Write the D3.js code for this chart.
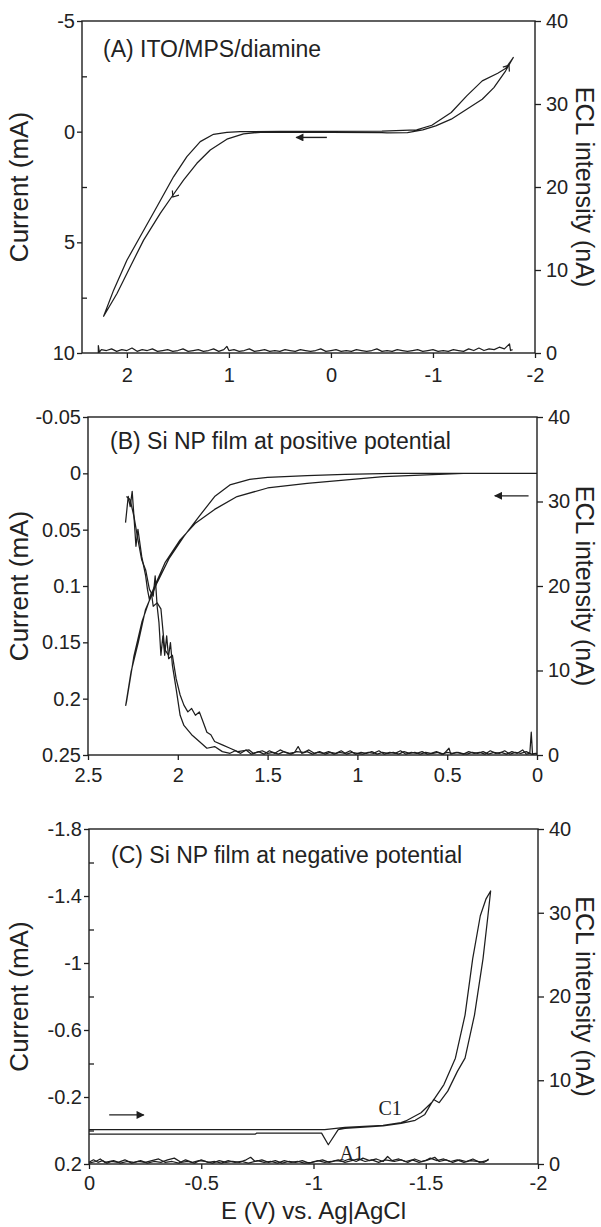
<!DOCTYPE html>
<html><head><meta charset="utf-8">
<script src="https://cdn.jsdelivr.net/npm/d3@7"></script>
<style>body{margin:0;background:#fff}svg{display:block}</style>
</head><body><script>
// ---------------- DATA ----------------
// Panel A: ITO/MPS/diamine  [E (V), current (mA)]
const cvA = [[0,0.03],[0.3,0.03],[0.6,0.03],[0.69,0.03],[0.857,0.1],[1.02,0.34],[1.183,0.83],[1.314,1.43],[1.445,2.19],[1.56,2.94],[1.673,3.69],[1.836,4.9],[1.967,6.1],[2.097,7.31],[2.228,8.34],
  [2.13,7.16],[2.0,5.81],[1.853,4.6],[1.706,3.39],[1.543,2.04],[1.412,1.13],[1.281,0.45],[1.151,0.12],[1.02,0.03],[0.89,0.0],[0.5,-0.01],[0,-0.01],[-0.5,-0.02],[-0.84,-0.08],
  [-0.989,-0.29],[-1.179,-0.865],[-1.331,-1.617],[-1.483,-2.293],[-1.635,-2.64],[-1.711,-2.85],[-1.787,-3.35],
  [-1.711,-2.74],[-1.597,-1.99],[-1.483,-1.466],[-1.331,-1.015],[-1.179,-0.564],[-1.027,-0.26],[-0.9,-0.08],[-0.75,0.04],[-0.55,0.06],[-0.5,0.04],[0,0.03]];
// ECL (nA)
const eclA = [[2.28,0.0],[2.28,0.9],[2.27,0.1],[2.25,0.4],[2.2,0.3],[2.15,0.5],[2.1,0.2],[2.05,0.4],[2.0,0.3],[1.95,0.6],[1.9,0.2],[1.85,0.4],[1.8,0.3],[1.75,0.5],[1.7,0.2],[1.65,0.3],[1.6,0.4],[1.55,0.2],[1.5,0.3],[1.45,0.5],[1.4,0.2],[1.35,0.3],[1.3,0.4],[1.25,0.2],[1.2,0.3],[1.15,0.5],[1.1,0.2],[1.05,0.4],[1.02,0.8],[1.0,0.3],[0.95,0.4],[0.9,0.2],[0.85,0.3],[0.8,0.5],[0.75,0.2],[0.7,0.3],[0.65,0.4],[0.6,0.2],[0.55,0.3],[0.5,0.2],[0.45,0.4],[0.4,0.3],[0.35,0.2],[0.3,0.4],[0.25,0.3],[0.2,0.2],[0.15,0.3],[0.1,0.5],[0.05,0.2],[0.0,0.3],[-0.05,0.4],[-0.1,0.2],[-0.15,0.3],[-0.2,0.2],[-0.25,0.4],[-0.3,0.3],[-0.35,0.2],[-0.4,0.3],[-0.45,0.5],[-0.5,0.2],[-0.55,0.3],[-0.6,0.2],[-0.65,0.4],[-0.7,0.3],[-0.75,0.2],[-0.8,0.3],[-0.85,0.4],[-0.9,0.2],[-0.95,0.3],[-1.0,0.4],[-1.05,0.2],[-1.1,0.3],[-1.15,0.2],[-1.2,0.4],[-1.25,0.3],[-1.3,0.2],[-1.35,0.5],[-1.4,0.3],[-1.45,0.6],[-1.5,0.3],[-1.55,0.5],[-1.6,0.4],[-1.65,0.7],[-1.7,0.5],[-1.75,1.1],[-1.76,0.3],[-1.78,0.4]];

// Panel B: Si NP film, positive potential
const cvB = [[0,0],[0.41,0.0],[0.855,0.003],[1.28,0.009],[1.5,0.013],[1.67,0.0206],[1.795,0.032],[1.9,0.044],[1.987,0.059],[2.07,0.079],[2.137,0.103],[2.2,0.132],[2.244,0.162],[2.286,0.203],[2.29,0.206],
  [2.26,0.176],[2.22,0.15],[2.18,0.121],[2.115,0.097],[2.05,0.076],[1.966,0.056],[1.88,0.038],[1.795,0.0206],[1.71,0.0103],[1.6,0.0053],[1.5,0.0035],[1.28,0.002],[1.07,0.001],[0.8,0],[0,0]];
const eclB1 = [[2.291,27.5],[2.276,30.6],[2.265,29.4],[2.254,31.2],[2.244,28.2],[2.233,24.7],[2.222,26.7],[2.201,23.5],[2.179,21.2],[2.169,19.6],[2.158,18.4],[2.147,19.2],[2.137,17.6],[2.115,18.0],[2.094,17.3],[2.073,12.5],[2.051,11.8],[2.041,13.3],[2.03,10.6],[2.009,7.8],[1.987,4.7],[1.966,3.5],[1.923,2.4],[1.88,1.6],[1.838,0.8],[1.795,1.0],[1.752,0.4],[1.709,0.2],
  [1.68,0.5],[1.65,0.2],[1.62,0.6],[1.59,0.1],[1.56,0.3],[1.53,0.5],[1.5,0.2],[1.47,0.3],[1.44,0.1],[1.41,0.4],[1.38,0.2],[1.35,0.3],[1.33,1.0],[1.31,0.2],[1.28,0.4],[1.25,0.1],[1.22,0.3],[1.19,0.2],[1.16,0.4],[1.13,0.1],[1.1,0.3],[1.07,0.2],[1.04,0.5],[1.01,0.1],[0.98,0.3],[0.95,0.2],[0.92,0.4],[0.89,0.1],[0.86,0.3],[0.83,0.2],[0.8,0.3],[0.77,0.1],[0.74,0.4],[0.71,0.2],[0.68,0.3],[0.65,0.1],[0.62,0.3],[0.59,0.2],[0.56,0.4],[0.53,0.1],[0.5,0.3],[0.47,0.2],[0.44,0.3],[0.41,0.1],[0.38,0.4],[0.35,0.2],[0.32,0.3],[0.29,0.1],[0.26,0.5],[0.23,0.2],[0.2,0.3],[0.17,0.1],[0.14,0.4],[0.11,0.2],[0.08,0.6],[0.06,0.1],[0.04,0.2],[0.032,2.7],[0.025,0.1],[0.01,0.2],[0,0.1]];
const eclB2 = [[2.286,30.6],[2.265,30.2],[2.244,28.2],[2.222,25.5],[2.201,23.1],[2.179,21.9],[2.158,19.6],[2.137,18.8],[2.126,21.2],[2.115,17.6],[2.105,15.7],[2.094,11.8],[2.083,14.1],[2.073,11.8],[2.062,14.1],[2.051,11.4],[2.03,11.8],[2.009,9.0],[1.987,7.1],[1.966,5.9],[1.944,5.1],[1.923,5.5],[1.902,4.7],[1.88,5.1],[1.859,3.9],[1.838,2.7],[1.816,2.4],[1.795,1.6],[1.752,1.2],[1.709,0.8],[1.667,0.4],[1.603,0.6],
  [1.58,0.2],[1.55,0.4],[1.52,0.1],[1.49,0.5],[1.46,0.2],[1.43,0.6],[1.4,0.3],[1.37,0.1],[1.34,0.4],[1.3,0.3],[1.27,0.6],[1.24,0.2],[1.21,0.4],[1.18,0.1],[1.15,0.3],[1.12,0.2],[1.09,0.5],[1.06,0.1],[1.03,0.3],[1.0,0.2],[0.97,0.1],[0.94,0.3],[0.91,0.2],[0.88,0.5],[0.85,0.1],[0.82,0.3],[0.79,0.2],[0.76,0.5],[0.73,0.1],[0.7,0.3],[0.67,0.2],[0.64,0.4],[0.61,0.1],[0.58,0.2],[0.55,0.3],[0.52,0.1],[0.49,0.8],[0.48,0.1],[0.45,0.3],[0.42,0.2],[0.39,0.1],[0.36,0.3],[0.33,0.2],[0.3,0.4],[0.27,0.1],[0.24,0.3],[0.21,0.2],[0.18,0.5],[0.15,0.1],[0.12,0.3],[0.09,0.2],[0.06,0.4],[0.03,0.1],[0,0.2]];

// Panel C: Si NP film, negative potential
const cvC = [[0,-0.005],[-0.5,-0.005],[-1.05,-0.005],[-1.14,-0.018],[-1.31,-0.031],[-1.39,-0.047],
  [-1.411,-0.057],[-1.479,-0.106],[-1.53,-0.172],[-1.581,-0.274],[-1.632,-0.432],[-1.675,-0.689],[-1.709,-1.025],[-1.743,-1.282],[-1.768,-1.381],[-1.789,-1.43],
  [-1.777,-1.282],[-1.755,-1.025],[-1.717,-0.689],[-1.675,-0.432],[-1.641,-0.353],[-1.598,-0.235],[-1.56,-0.166],[-1.535,-0.185],[-1.496,-0.096],[-1.453,-0.061],[-1.39,-0.042],[-1.31,-0.028],[-1.14,-0.012],[-1.11,-0.005],[-1.066,0.085],[-1.036,0.016],[-0.746,0.016],[-0.74,0.022],[0,0.022]];
const eclC1 = [[0,0.2],[-0.02,0.5],[-0.04,0.2],[-0.06,0.4],[-0.08,0.1],[-0.1,0.3],[-0.13,0.2],[-0.16,0.5],[-0.19,0.1],[-0.22,0.3],[-0.25,0.2],[-0.28,0.4],[-0.31,0.6],[-0.34,0.2],[-0.37,0.3],[-0.4,0.1],[-0.43,0.5],[-0.46,0.2],[-0.49,0.4],[-0.52,0.3],[-0.55,0.1],[-0.58,0.4],[-0.61,0.2],[-0.64,0.3],[-0.67,0.2],[-0.7,0.5],[-0.72,0.8],[-0.74,0.3],[-0.77,0.5],[-0.8,0.2],[-0.83,0.4],[-0.86,0.1],[-0.89,0.3],[-0.92,0.2],[-0.95,0.4],[-0.98,0.1],[-1.01,0.3],[-1.04,0.5],[-1.07,0.2],[-1.1,0.4],[-1.13,0.3],[-1.16,0.6],[-1.19,0.3],[-1.22,0.7],[-1.25,0.4],[-1.28,0.6],[-1.31,0.3],[-1.33,0.9],[-1.35,0.4],[-1.38,0.6],[-1.41,0.3],[-1.44,0.5],[-1.47,0.2],[-1.5,0.4],[-1.52,0.7],[-1.55,0.4],[-1.58,0.6],[-1.61,0.3],[-1.64,0.5],[-1.67,0.2],[-1.7,0.4],[-1.73,0.3],[-1.76,0.2],[-1.78,0.5]];
const eclC2 = [[0,0.1],[-0.03,0.3],[-0.05,0.6],[-0.07,0.2],[-0.11,0.4],[-0.14,0.1],[-0.17,0.3],[-0.2,0.2],[-0.23,0.4],[-0.26,0.1],[-0.29,0.3],[-0.32,0.2],[-0.35,0.5],[-0.38,0.7],[-0.41,0.2],[-0.44,0.3],[-0.47,0.1],[-0.5,0.5],[-0.53,0.2],[-0.56,0.3],[-0.59,0.1],[-0.62,0.4],[-0.65,0.2],[-0.68,0.3],[-0.71,0.1],[-0.75,0.4],[-0.78,0.2],[-0.81,0.3],[-0.84,0.1],[-0.87,0.4],[-0.9,0.2],[-0.93,0.3],[-0.96,0.1],[-0.99,0.2],[-1.02,0.4],[-1.05,0.2],[-1.08,0.3],[-1.11,0.5],[-1.14,0.2],[-1.17,0.4],[-1.2,0.6],[-1.23,0.3],[-1.26,0.5],[-1.29,0.2],[-1.32,0.5],[-1.36,0.3],[-1.39,0.5],[-1.42,0.2],[-1.45,0.6],[-1.48,0.3],[-1.51,0.5],[-1.54,0.8],[-1.56,0.3],[-1.59,0.5],[-1.62,0.2],[-1.65,0.5],[-1.68,0.3],[-1.71,0.6],[-1.74,0.2],[-1.77,0.4],[-1.78,0.6]];

// Axis ticks and labels
const xTicksA = [2,1,0,-1,-2], xLabelsA = ["2","1","0","-1","-2"];
const yTicksA = [-5,0,5,10], yLabelsA = ["-5","0","5","10"], yMinorA = [-2.5,2.5,7.5];
const xTicksB = [2.5,2,1.5,1,0.5,0], xLabelsB = ["2.5","2","1.5","1","0.5","0"];
const yTicksB = [-0.05,0,0.05,0.1,0.15,0.2,0.25], yLabelsB = ["-0.05","0","0.05","0.1","0.15","0.2","0.25"];
const xTicksC = [0,-0.5,-1,-1.5,-2], xLabelsC = ["0","-0.5","-1","-1.5","-2"];
const yTicksC = [-1.8,-1.4,-1,-0.6,-0.2,0.2], yLabelsC = ["-1.8","-1.4","-1","-0.6","-0.2","0.2"], yMinorC = [-1.6,-1.2,-0.8,-0.4,0];
const eclTicks = [0,10,20,30,40], eclLabels = ["0","10","20","30","40"];
const titles = ["(A) ITO/MPS/diamine","(B) Si NP film at positive potential","(C) Si NP film at negative potential"];
// annotation arrows [E start, I start, E end, I end] (head at end)
const arrowA = [0.04,0.26,0.34,0.26];
const arrowB = [0.047,0.02,0.235,0.02];
const arrowC = [-0.09,-0.093,-0.244,-0.093];

// ---------------- DRAWING ----------------
const SANS = '"Liberation Sans", Arial, Helvetica, sans-serif';
const SERIF = '"Liberation Serif", "Times New Roman", serif';
const INK = "#1e1e1e";
const svg = d3.select("body").append("svg").attr("width",601).attr("height",1227);
const defs = svg.append("defs");
defs.append("marker").attr("id","ah").attr("viewBox","0 0 10 10").attr("refX",9).attr("refY",5)
  .attr("markerWidth",10).attr("markerHeight",8).attr("markerUnits","userSpaceOnUse").attr("orient","auto")
  .append("path").attr("d","M0,0 L10,5 L0,10 z").attr("fill",INK);

const panels = [
  {l:82,r:535,t:21,b:353,xd:[2.44,-2],yd:[-5,10],xt:xTicksA,xl:xLabelsA,yt:yTicksA,yl:yLabelsA,ym:yMinorA,cv:[cvA],ecl:[eclA],arrow:arrowA,title:titles[0],ty:57,tx:103,xpad:10},
  {l:88,r:537,t:417,b:755,xd:[2.5,0],yd:[-0.05,0.25],xt:xTicksB,xl:xLabelsB,yt:yTicksB,yl:yLabelsB,ym:null,cv:[cvB],ecl:[eclB1,eclB2],arrow:arrowB,title:titles[1],ty:449,tx:110,xpad:8},
  {l:89,r:538,t:829,b:1164,xd:[0,-2],yd:[-1.8,0.2],xt:xTicksC,xl:xLabelsC,yt:yTicksC,yl:yLabelsC,ym:yMinorC,cv:[cvC],ecl:[eclC1,eclC2],arrow:arrowC,title:titles[2],ty:863,tx:111,xpad:7}
];

function styleAxis(sel){
  sel.attr("font-family",null).attr("font-size",null);
  sel.select(".domain").remove();
  sel.selectAll("line").attr("stroke",INK).attr("stroke-width",1.3);
  sel.selectAll("text").attr("font-family",SANS).attr("font-size",20).attr("fill","#222");
}

panels.forEach((p,pi)=>{
  const x = d3.scaleLinear().domain(p.xd).range([p.l,p.r]);
  const y = d3.scaleLinear().domain(p.yd).range([p.t,p.b]);
  const y2 = d3.scaleLinear().domain([0,40]).range([p.b,p.t]);
  const g = svg.append("g");
  g.append("g").attr("transform",`translate(${p.l},0)`)
    .call(d3.axisLeft(y).tickValues(p.yt).tickFormat((d,i)=>p.yl[i]).tickSize(5).tickPadding(2)).call(styleAxis);
  if(p.ym) g.append("g").attr("transform",`translate(${p.l},0)`)
    .call(d3.axisLeft(y).tickValues(p.ym).tickFormat("").tickSize(-5)).call(styleAxis);
  g.append("g").attr("transform",`translate(${p.r},0)`)
    .call(d3.axisRight(y2).tickValues(eclTicks).tickFormat((d,i)=>eclLabels[i]).tickSize(6).tickPadding(5)).call(styleAxis);
  g.append("g").attr("transform",`translate(0,${p.b})`)
    .call(d3.axisBottom(x).tickValues(p.xt).tickFormat((d,i)=>p.xl[i]).tickSize(5).tickPadding(p.xpad)).call(styleAxis);
  g.append("rect").attr("x",p.l).attr("y",p.t).attr("width",p.r-p.l).attr("height",p.b-p.t)
    .attr("fill","none").attr("stroke",INK).attr("stroke-width",1.4);

  const lineCV = d3.line().x(d=>x(d[0])).y(d=>y(d[1]));
  const lineECL = d3.line().x(d=>x(d[0])).y(d=>y2(d[1]));
  p.cv.forEach(s=>g.append("path").attr("d",lineCV(s)).attr("fill","none").attr("stroke",INK).attr("stroke-width",1.25).attr("stroke-linejoin","round"));
  p.ecl.forEach(s=>g.append("path").attr("d",lineECL(s)).attr("fill","none").attr("stroke",INK).attr("stroke-width",1.25).attr("stroke-linejoin","round"));

  const a = p.arrow;
  g.append("line").attr("x1",x(a[0])).attr("y1",y(a[1])).attr("x2",x(a[2])).attr("y2",y(a[3]))
    .attr("stroke",INK).attr("stroke-width",1.4).attr("marker-end","url(#ah)");

  g.append("text").attr("x",p.tx).attr("y",p.ty).text(p.title)
    .attr("font-family",SANS).attr("font-size",23).attr("fill","#222");

  const yc = (p.t+p.b)/2;
  g.append("text").attr("transform",`translate(28,${yc}) rotate(-90)`).attr("text-anchor","middle")
    .text("Current (mA)").attr("font-family",SANS).attr("font-size",26).attr("fill","#222");
  g.append("text").attr("transform",`translate(576,${yc}) rotate(90)`).attr("text-anchor","middle")
    .text("ECL intensity (nA)").attr("font-family",SANS).attr("font-size",25).attr("fill","#222");

  if(pi===0){
    const chev = (E,I,ang)=>{
      const cx=x(E), cy=y(I);
      g.append("path").attr("d","M-5,-4 L0,0 L-5,4").attr("transform",`translate(${cx},${cy}) rotate(${ang})`)
        .attr("fill","none").attr("stroke",INK).attr("stroke-width",1.2);
    };
    chev(1.55,2.95,125);
    chev(-1.745,-3.0,-55);
  }
  if(pi===2){
    g.append("text").attr("x",x(-1.341)).attr("y",y(-0.093)).attr("text-anchor","middle").text("C1")
      .attr("font-family",SERIF).attr("font-size",20).attr("fill","#222");
    g.append("text").attr("x",x(-1.17)).attr("y",y(0.176)).attr("text-anchor","middle").text("A1")
      .attr("font-family",SERIF).attr("font-size",20).attr("fill","#222");
    svg.append("text").attr("x",(p.l+p.r)/2).attr("y",1219).attr("text-anchor","middle")
      .text("E (V) vs. Ag|AgCl").attr("font-family",SANS).attr("font-size",24).attr("fill","#222");
  }
});
</script></body></html>
